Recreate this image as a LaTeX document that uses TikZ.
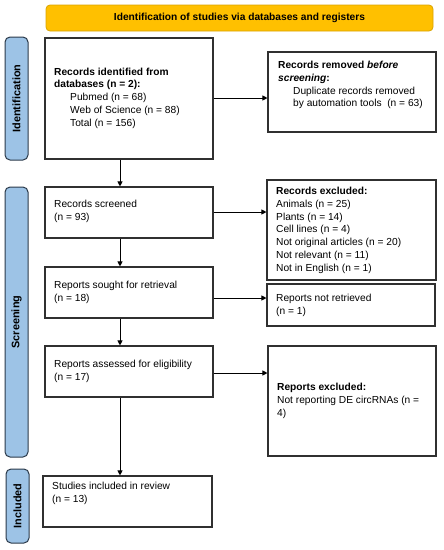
\documentclass[tikz,border=0pt]{standalone}
\usepackage{fontspec}
\setmainfont{Liberation Sans}
\usetikzlibrary{arrows.meta}
\definecolor{banner}{HTML}{FFC000}
\definecolor{bannerline}{HTML}{D9A300}
\definecolor{side}{HTML}{9DC3E6}
\definecolor{sideline}{HTML}{2B3A4A}
\definecolor{boxline}{HTML}{303030}
\begin{document}
\begin{tikzpicture}[x=1pt,y=-1pt,
  box/.style={draw=boxline,line width=1.1pt,inner sep=0pt},
  txt/.style={inner sep=0pt,align=left,font=\fontsize{10.2}{12.8}\selectfont},
  sidebar/.style={draw=sideline,line width=1pt,fill=side,rounded corners=5pt,inner sep=0pt},
  sidetxt/.style={inner sep=0pt,rotate=90,font=\fontsize{10.9}{12}\selectfont\bfseries},
  arr/.style={-{Triangle[length=5pt,width=5pt]},line width=0.9pt,black}]
\useasboundingbox (0,0) rectangle (444,550);
% banner
\node[draw=bannerline,fill=banner,line width=0.8pt,rounded corners=4pt,minimum width=387pt,minimum height=26pt,inner sep=0pt,font=\fontsize{10.2}{12}\selectfont\bfseries] (ban) at (239.5,18) {Identification of studies via databases and registers};
% side bars
\node[sidebar,minimum width=23pt,minimum height=123pt] (sid) at (16.5,98.5) {};
\node[sidetxt] (sidt) at (sid.center) {Identification};
\node[sidebar,minimum width=23pt,minimum height=270pt] (sis) at (16.5,322) {};
\node[sidetxt] (sist) at (sis.center) {Screening};
\node[sidebar,minimum width=23pt,minimum height=74pt] (sii) at (17.5,506) {};
\node[sidetxt] (siit) at (sii.center) {Included};
% boxes
\node[box,minimum width=168pt,minimum height=121pt] (b1) at (129,98.5) {};
\node[box,minimum width=168pt,minimum height=80pt] (r1) at (352,92) {};
\node[box,minimum width=168pt,minimum height=51pt] (b2) at (129,212.5) {};
\node[box,minimum width=169pt,minimum height=100pt] (r2) at (351.5,230) {};
\node[box,minimum width=168pt,minimum height=51pt] (b3) at (129,292.5) {};
\node[box,minimum width=168pt,minimum height=42pt] (r3) at (351,305) {};
\node[box,minimum width=168pt,minimum height=51pt] (b4) at (129,371.5) {};
\node[box,minimum width=168pt,minimum height=110pt] (r4) at (352,401) {};
\node[box,minimum width=169pt,minimum height=51pt] (b5) at (127.5,501.5) {};
% texts
\node[txt,anchor=west] (t1) at (54,98) {\textbf{Records identified from}\\\textbf{databases (n = 2):}\\\hspace*{16pt}Pubmed (n = 68)\\\hspace*{16pt}Web of Science (n = 88)\\\hspace*{16pt}Total (n = 156)};
\node[txt,anchor=north west] (tr1) at (278,61) {\textbf{Records removed \textit{before}}\\\textbf{\textit{screening}:}\\\hspace*{15pt}Duplicate records removed\\\hspace*{15pt}by automation tools\ \ (n = 63)};
\node[txt,anchor=north west] (t2) at (54,200) {Records screened\\(n = 93)};
\node[txt,anchor=north west] (tr2) at (276,187) {\textbf{Records excluded:}\\Animals (n = 25)\\Plants (n = 14)\\Cell lines (n = 4)\\Not original articles (n = 20)\\Not relevant (n = 11)\\Not in English (n = 1)};
\node[txt,anchor=north west] (t3) at (54,281) {Reports sought for retrieval\\(n = 18)};
\node[txt,anchor=west] (tr3) at (276,305) {Reports not retrieved\\(n = 1)};
\node[txt,anchor=north west] (t4) at (54,360) {Reports assessed for eligibility\\(n = 17)};
\node[txt,anchor=west] (tr4) at (277,401) {\textbf{Reports excluded:}\\Not reporting DE circRNAs (n =\\4)};
\node[txt,anchor=north west] (t5) at (52,482) {Studies included in review\\(n = 13)};
% arrows
\draw[arr] (b1.east |- 0,98) -- (r1.west |- 0,98);
\draw[arr] (b2.east |- 0,212) -- (r2.west |- 0,212);
\draw[arr] (b3.east |- 0,298) -- (r3.west |- 0,298);
\draw[arr] (b4.east |- 0,373) -- (r4.west |- 0,373);
\draw[arr] (b1.south -| 120,0) -- (b2.north -| 120,0);
\draw[arr] (b2.south -| 120,0) -- (b3.north -| 120,0);
\draw[arr] (b3.south -| 120,0) -- (b4.north -| 120,0);
\draw[arr] (b4.south -| 120,0) -- (b5.north -| 120,0);
\end{tikzpicture}
\end{document}
